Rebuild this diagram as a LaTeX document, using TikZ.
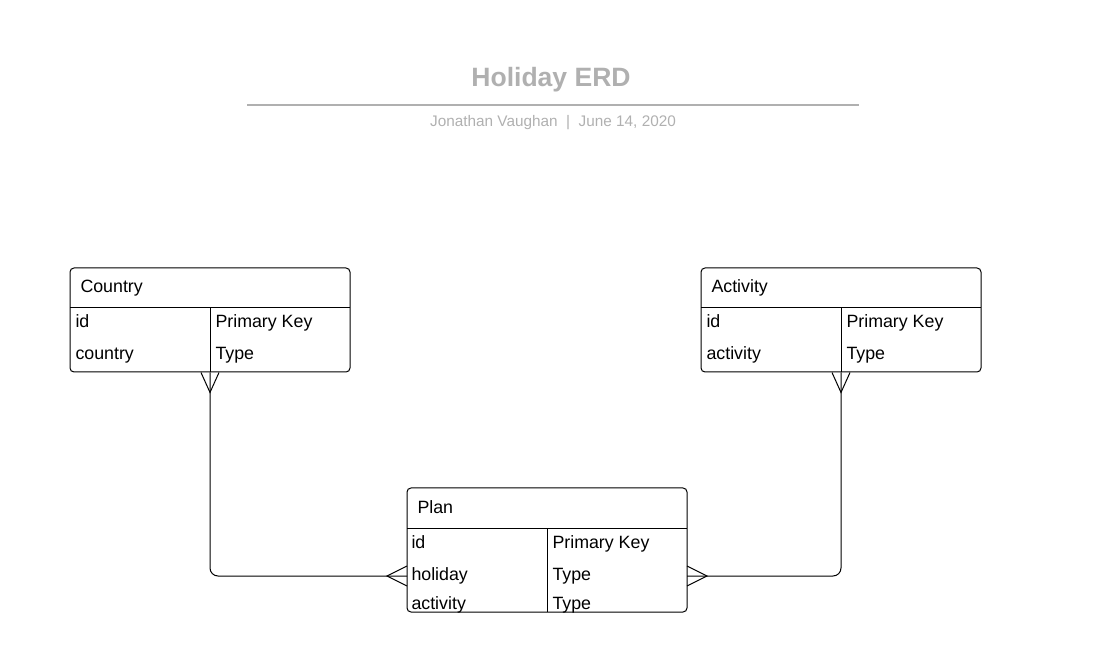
\documentclass[tikz,border=0pt]{standalone}
\usepackage{fontspec}
\setmainfont{Liberation Sans}
\definecolor{titlegray}{HTML}{B0B0B0}

\begin{document}
\begin{tikzpicture}[x=0.75pt,y=-0.75pt,line width=0.75pt,
    entity/.style={draw, rounded corners=3pt, minimum width=210pt, inner sep=0pt},
    field/.style={anchor=base west, inner sep=0pt, font=\fontsize{13.35}{15}\selectfont},
    crowfoot/.style={line join=miter}]
    \useasboundingbox (0,0) rectangle (1100,666);

    % Title
    \node[anchor=base, inner sep=0pt, text=titlegray, font=\fontsize{19.9}{22}\selectfont\bfseries] (title) at (551,87) {Holiday ERD};
    \draw[titlegray, line width=1.5pt] (247,105) -- (859,105);
    \node[anchor=base, inner sep=0pt, text=titlegray, font=\fontsize{11.5}{13}\selectfont] (sub) at (553,127) {Jonathan Vaughan \ | \ June 14, 2020};

    % Nodes
    \node[entity, minimum height=78pt] (country) at (210,320) {};
    \node[entity, minimum height=78pt] (activity) at (841,320) {};
    \node[entity, minimum height=93pt] (plan) at (547,550) {};

    % Table lines
    \draw (70,308) -- (350,308);
    \draw (210,308) -- (210,372);
    \draw (701,308) -- (981,308);
    \draw (841,308) -- (841,372);
    \draw (407,528) -- (687,528);
    \draw (547,528) -- (547,612);

    % Fields
    \node[field] (countryT) at (80,293) {Country};
    \node[field] (countryA) at (75,328) {id};
    \node[field] (countryB) at (215,328) {Primary Key};
    \node[field] (countryC) at (75,360) {country};
    \node[field] (countryD) at (215,360) {Type};

    \node[field] (activityT) at (711,293) {Activity};
    \node[field] (activityA) at (706,328) {id};
    \node[field] (activityB) at (846,328) {Primary Key};
    \node[field] (activityC) at (706,360) {activity};
    \node[field] (activityD) at (846,360) {Type};

    \node[field] (planT) at (417,513) {Plan};
    \node[field] (planA) at (411,548) {id};
    \node[field] (planB) at (552,548) {Primary Key};
    \node[field] (planC) at (411,580) {holiday};
    \node[field] (planD) at (552,580) {Type};
    \node[field] (planE) at (411,609) {activity};
    \node[field] (planF) at (552,609) {Type};

    \coordinate (planL) at (407,576);
    \coordinate (planR) at (687,576);

    % Edges
    \draw[rounded corners=6pt] (country.south) |- (planL);
    \draw[rounded corners=6pt] (activity.south) |- (planR);

    % Crow's feet
    \draw[crowfoot] (country.south) ++(-9,0) -- ++(9,20) -- ++(9,-20);
    \draw[crowfoot] (activity.south) ++(-9,0) -- ++(9,20) -- ++(9,-20);
    \draw[crowfoot] (planL) ++(0,-10) -- ++(-20,10) -- ++(20,10);
    \draw[crowfoot] (planR) ++(0,-10) -- ++(20,10) -- ++(-20,10);
\end{tikzpicture}
\end{document}
